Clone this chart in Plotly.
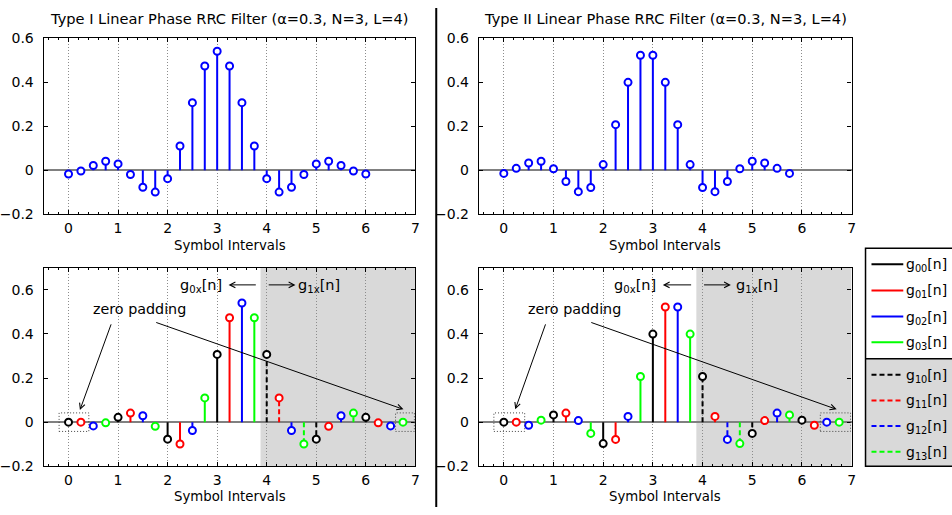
import plotly.graph_objects as go

# ---- data -------------------------------------------------------------
# RRC impulse responses (alpha=0.3, N=3 symbols each side, L=4 samples/symbol)
type1_taps = [-0.017, -0.003, 0.022, 0.041, 0.029, -0.019, -0.077, -0.099, -0.038,
              0.110, 0.307, 0.473, 0.540, 0.473, 0.307, 0.110, -0.038, -0.099,
              -0.077, -0.019, 0.029, 0.041, 0.022, -0.003, -0.017]
type2_taps = [-0.014, 0.009, 0.033, 0.041, 0.007, -0.051, -0.097, -0.078, 0.026,
              0.207, 0.399, 0.522, 0.522, 0.399, 0.207, 0.026, -0.078, -0.097,
              -0.051, 0.007, 0.041, 0.033, 0.009, -0.014]

# zero-padded sequences split into polyphase branches g_0k / g_1k
type1_padded = [0.0, 0.0] + type1_taps + [0.0]
type2_padded = [0.0, 0.0] + type2_taps + [0.0, 0.0]

samples_per_symbol = 4
split_index = 16          # first sample of the g_1x[n] half

x_ticks = [0, 1, 2, 3, 4, 5, 6, 7]
y_ticks = [-0.2, 0, 0.2, 0.4, 0.6]

branch_colors = ["#000000", "#ff0000", "#0000ff", "#00ff00"]
legend_labels = ["g<sub>00</sub>[n]", "g<sub>01</sub>[n]", "g<sub>02</sub>[n]", "g<sub>03</sub>[n]",
                 "g<sub>10</sub>[n]", "g<sub>11</sub>[n]", "g<sub>12</sub>[n]", "g<sub>13</sub>[n]"]

titles = ["Type I Linear Phase RRC Filter (\u03b1=0.3, N=3, L=4)",
          "Type II Linear Phase RRC Filter (\u03b1=0.3, N=3, L=4)"]

FONT = "DejaVu Sans"
W, H = 952, 515

fig = go.Figure()


def add_stem(xs, ys, color, dash, xa, ya):
    lx, ly = [], []
    for x, y in zip(xs, ys):
        lx += [x, x, None]
        ly += [0, y, None]
    fig.add_trace(go.Scatter(x=lx, y=ly, mode="lines", xaxis=xa, yaxis=ya,
                             line=dict(color=color, width=2, dash=dash),
                             hoverinfo="skip", showlegend=False))
    fig.add_trace(go.Scatter(x=xs, y=ys, mode="markers", xaxis=xa, yaxis=ya,
                             marker=dict(symbol="circle", size=7, color="white",
                                         line=dict(color=color, width=2)),
                             showlegend=False))


# top row: full filters
for taps, xa, ya in [(type1_taps, "x", "y"), (type2_taps, "x2", "y2")]:
    t = [n / samples_per_symbol for n in range(len(taps))]
    add_stem(t, taps, "#0000ff", "solid", xa, ya)

# bottom row: polyphase components
for seq, xa, ya in [(type1_padded, "x3", "y3"), (type2_padded, "x4", "y4")]:
    for half in (0, 1):
        for k in range(4):
            idx = [i for i in range(len(seq))
                   if i % 4 == k and (i >= split_index) == bool(half)]
            t = [i / samples_per_symbol for i in idx]
            v = [seq[i] for i in idx]
            add_stem(t, v, branch_colors[k], "solid" if half == 0 else "5px,3px", xa, ya)

# ---- axes -------------------------------------------------------------
def px_x(a, b):
    return [a / W, b / W]


def px_y(top, bottom):
    return [1 - bottom / H, 1 - top / H]


xdom = [px_x(42, 416), px_x(480, 855)]
ydom = [px_y(31, 213), px_y(268, 473)]

axis_common = dict(showline=True, linecolor="black", linewidth=1.3, mirror="ticks",
                   ticks="inside", ticklen=4, tickwidth=1, tickcolor="black",
                   tickfont=dict(family=FONT, size=14, color="black"),
                   zeroline=False)

layout_axes = {}
names = [("xaxis", "yaxis", 0, 0), ("xaxis2", "yaxis2", 1, 0),
         ("xaxis3", "yaxis3", 0, 1), ("xaxis4", "yaxis4", 1, 1)]
for xn, yn, col, row in names:
    xid = xn.replace("axis", "")
    yid = yn.replace("axis", "")
    layout_axes[xn] = dict(axis_common, domain=xdom[col], anchor=yid, range=[-0.5, 7],
                           tickvals=x_ticks, showgrid=True, gridcolor="#8c8c8c",
                           gridwidth=1, griddash="1px,2px", ticklabelstandoff=1,
                           minor=dict(dtick=0.2, tick0=0, ticks="inside", ticklen=2,
                                      tickcolor="black", showgrid=False))
    layout_axes[yn] = dict(axis_common, domain=ydom[row], anchor=xid,
                           range=[-0.2, 0.6] if row == 0 else [-0.2, 0.7],
                           tickvals=y_ticks, showgrid=False, ticklabelstandoff=6,
                           zeroline=True, zerolinecolor="#808080", zerolinewidth=1.6)

shapes = []
annotations = []

# shaded g_1x region
for xa, ya in [("x3", "y3"), ("x4", "y4")]:
    shapes.append(dict(type="rect", xref=xa, yref=ya + " domain", x0=3.875, x1=7,
                       y0=0, y1=1, fillcolor="#d9d9d9", line=dict(width=0), layer="below"))

# dotted boxes marking the zero padding
pad_boxes = [("x3", "y3", -0.19, 0.41), ("x3", "y3", 6.6, 6.98),
             ("x4", "y4", -0.2, 0.42), ("x4", "y4", 6.37, 6.98)]
for xa, ya, a, b in pad_boxes:
    shapes.append(dict(type="rect", xref=xa, yref=ya, x0=a, x1=b, y0=-0.042, y1=0.042,
                       line=dict(color="#444444", width=1, dash="1px,2px"), layer="above"))

# panel separator
shapes.append(dict(type="line", xref="paper", yref="paper", x0=437 / W, x1=437 / W,
                   y0=0, y1=1, line=dict(color="black", width=2)))

# titles and axis labels
for i, cx in enumerate([229, 667.5]):
    annotations.append(dict(text=titles[i], xref="paper", yref="paper", x=cx / W,
                            y=1 - 11 / H, showarrow=False, xanchor="center",
                            yanchor="middle", font=dict(family=FONT, size=14.6, color="black")))
    for cy in (245, 504):
        annotations.append(dict(text="Symbol Intervals", xref="paper", yref="paper",
                                x=cx / W, y=1 - cy / H, showarrow=False, xanchor="center",
                                yanchor="middle", font=dict(family=FONT, size=13.3, color="black")))

# arrows and labels in the polyphase panels
arrow_sets = {
    "3": dict(z1=((0.87, 0.45), (0.23, 0.055)), z2=((1.74, 0.454), (6.76, 0.058)),
              a0=((3.81, 0.622), (3.23, 0.622)), a1=((4.01, 0.622), (4.58, 0.622)),
              g0=3.13, g1=4.6),
    "4": dict(z1=((0.85, 0.45), (0.23, 0.058)), z2=((1.73, 0.454), (6.7, 0.058)),
              a0=((3.8, 0.622), (3.2, 0.622)), a1=((4.0, 0.622), (4.57, 0.622)),
              g0=3.1, g1=4.63),
}
for k, s in arrow_sets.items():
    xa, ya = "x" + k, "y" + k
    for key in ("z1", "z2", "a0", "a1"):
        (tx, ty), (hx, hy) = s[key]
        annotations.append(dict(text="", xref=xa, yref=ya, axref=xa, ayref=ya,
                                x=hx, y=hy, ax=tx, ay=ty, showarrow=True,
                                arrowhead=5, arrowsize=1.1, arrowwidth=1, arrowcolor="black"))
    annotations.append(dict(text="zero padding", xref=xa, yref=ya, x=1.43, y=0.515,
                            showarrow=False, xanchor="center", yanchor="middle",
                            font=dict(family=FONT, size=14.3, color="black")))
    annotations.append(dict(text="g<sub>0x</sub>[n]", xref=xa, yref=ya, x=s["g0"], y=0.615,
                            showarrow=False, xanchor="right", yanchor="middle",
                            font=dict(family=FONT, size=14.5, color="black")))
    annotations.append(dict(text="g<sub>1x</sub>[n]", xref=xa, yref=ya, x=s["g1"], y=0.615,
                            showarrow=False, xanchor="left", yanchor="middle",
                            font=dict(family=FONT, size=14.5, color="black")))

# legend box (solid g_0k entries on white, dashed g_1k entries on gray)
lx0, ltop, ldiv, lbot = 869, 248, 362, 473
shapes.append(dict(type="rect", xref="paper", yref="paper", x0=lx0 / W, x1=960 / W,
                   y0=1 - lbot / H, y1=1 - ldiv / H, fillcolor="#d9d9d9", line=dict(width=0)))
shapes.append(dict(type="rect", xref="paper", yref="paper", x0=lx0 / W, x1=960 / W,
                   y0=1 - lbot / H, y1=1 - ltop / H, line=dict(color="black", width=1.5)))
shapes.append(dict(type="line", xref="paper", yref="paper", x0=lx0 / W, x1=960 / W,
                   y0=1 - ldiv / H, y1=1 - ldiv / H, line=dict(color="black", width=1.5)))
row_y = [264.5, 291.5, 318.5, 345, 378.5, 405, 431.5, 458]
for i, ry in enumerate(row_y):
    shapes.append(dict(type="line", xref="paper", yref="paper", x0=875 / W, x1=907 / W,
                       y0=1 - ry / H, y1=1 - ry / H,
                       line=dict(color=branch_colors[i % 4], width=2,
                                 dash="solid" if i < 4 else "5px,3px")))
    annotations.append(dict(text=legend_labels[i], xref="paper", yref="paper",
                            x=908 / W, y=1 - (ry + 1) / H, showarrow=False,
                            xanchor="left", yanchor="middle",
                            font=dict(family=FONT, size=14, color="black")))

fig.update_layout(width=W, height=H, margin=dict(l=0, r=0, t=0, b=0),
                  paper_bgcolor="white", plot_bgcolor="white",
                  shapes=shapes, annotations=annotations, showlegend=False,
                  **layout_axes)

fig.write_html("out.html")
